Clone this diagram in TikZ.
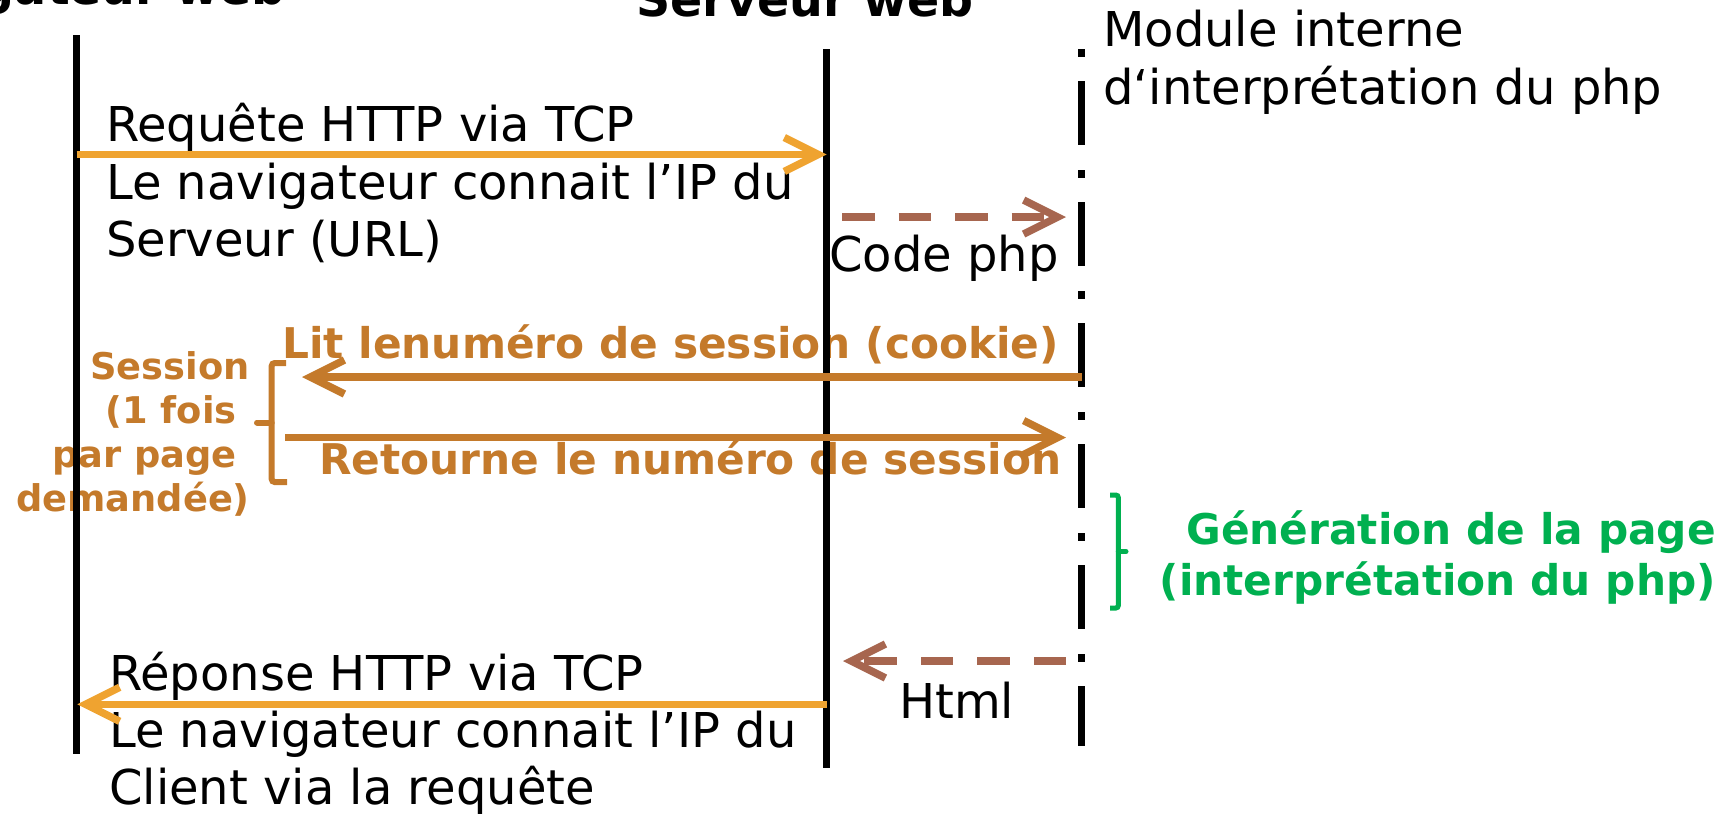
\documentclass[tikz,border=0pt]{standalone}
\usepackage{fontspec}
\setmainfont{DejaVu Sans}
\usetikzlibrary{arrows.meta}
\definecolor{reqorange}{HTML}{EFA330}
\definecolor{phpbrown}{HTML}{A7664F}
\definecolor{copper}{HTML}{C47A2B}
\definecolor{gengreen}{HTML}{00B050}
\begin{document}
\begin{tikzpicture}[x=1pt,y=-1pt,
  lifeline/.style={line width=7.5pt, black},
  modline/.style={line width=7.5pt, black, dash pattern=on 8pt off 24pt on 64pt off 25pt},
  msg/.style={line width=7.5pt, -{Straight Barb[length=34pt,width=34pt]}},
  dashmsg/.style={msg, dash pattern=on 32.5pt off 24pt},
  big/.style={font=\fontsize{48}{57.3}\selectfont, inner sep=0pt, align=left, anchor=base west},
  titletext/.style={font=\fontsize{47.5}{57}\selectfont\bfseries, inner sep=0pt},
  coptext/.style={font=\fontsize{42.3}{51}\selectfont\bfseries, text=copper, inner sep=0pt, anchor=base west},
  sesstext/.style={font=\fontsize{36.8}{44.3}\selectfont\bfseries, text=copper, inner sep=0pt, align=right, anchor=base east},
  gentext/.style={font=\fontsize{42.3}{50.7}\selectfont\bfseries, text=gengreen, inner sep=0pt, align=right, anchor=base east},
  bracecop/.style={copper, line width=6pt, rounded corners=3pt},
  bracegreen/.style={gengreen, line width=5pt, rounded corners=2.5pt}
]
\useasboundingbox (0,0) rectangle (1719,815);

% titles (multi-line nodes are placed by the baseline of their last line)
\node[titletext, anchor=base east] (tnav) at (286,4.5) {Navigateur web};
\node[titletext, anchor=base] (tsrv) at (805,16.7) {Serveur web};
\node[big] (tmod) at (1103,104) {Module interne\\d‘interprétation du php};

% message texts
\node[big] (treq) at (106,256.3) {Requête HTTP via TCP\\Le navigateur connait l’IP du\\Serveur (URL)};
\node[big] (tcode) at (829,271.7) {Code php};
\node[coptext] (tlit) at (282,358.5) {Lit lenuméro de session (cookie)};
\node[coptext] (tret) at (319,474) {Retourne le numéro de session};
\node[sesstext] (tsess) at (250,511.9) {Session\\(1 fois\rule{13pt}{0pt}\\par page\rule{13pt}{0pt}\\demandée)};
\node[gentext] (tgen) at (1716,595) {Génération de la page\\(interprétation du php)};
\node[big] (thtml) at (899,718) {Html};
\node[big] (tresp) at (109,804.8) {Réponse HTTP via TCP\\Le navigateur connait l’IP du\\Client via la requête};

% lifeline end points
\coordinate (navtop) at (76.7,35);
\coordinate (navbot) at (76.7,754);
\coordinate (srvtop) at (826.7,49);
\coordinate (srvbot) at (826.7,768);
\coordinate (modtop) at (1081.7,49.3);
\coordinate (modbot) at (1081.7,745.5);

\draw[lifeline] (navtop) -- (navbot);
\draw[lifeline] (srvtop) -- (srvbot);
\draw[modline] (modtop) -- (modbot);

% message end points
\coordinate (reqA) at (76.7,154.5);
\coordinate (reqB) at (826.7,154.5);
\coordinate (codeA) at (842,217);
\coordinate (codeB) at (1066,217);
\coordinate (litA) at (1081.7,377);
\coordinate (litB) at (302,377);
\coordinate (retA) at (285,437.5);
\coordinate (retB) at (1066,437.5);
\coordinate (htmlA) at (1066,661);
\coordinate (htmlB) at (843,661);
\coordinate (respA) at (826.7,704.3);
\coordinate (respB) at (77.3,704.3);

\draw[msg, reqorange] (reqA) -- (reqB);
\draw[dashmsg, phpbrown] (codeA) -- (codeB);
\draw[msg, copper] (litA) -- (litB);
\draw[msg, copper] (retA) -- (retB);
\draw[dashmsg, phpbrown] (htmlA) -- (htmlB);
\draw[msg, reqorange] (respA) -- (respB);

% braces
\draw[bracecop] (286,363) -- (271.7,363) -- (271.7,482) -- (287,482);
\draw[copper, line width=6pt, line cap=round] (271.7,422.5) -- (257,422.5);
\draw[bracegreen] (1110,495) -- (1118.3,495) -- (1118.3,608) -- (1110,608);
\draw[gengreen, line width=5pt, line cap=round] (1118.3,551.5) -- (1126,551.5);
\end{tikzpicture}
\end{document}
